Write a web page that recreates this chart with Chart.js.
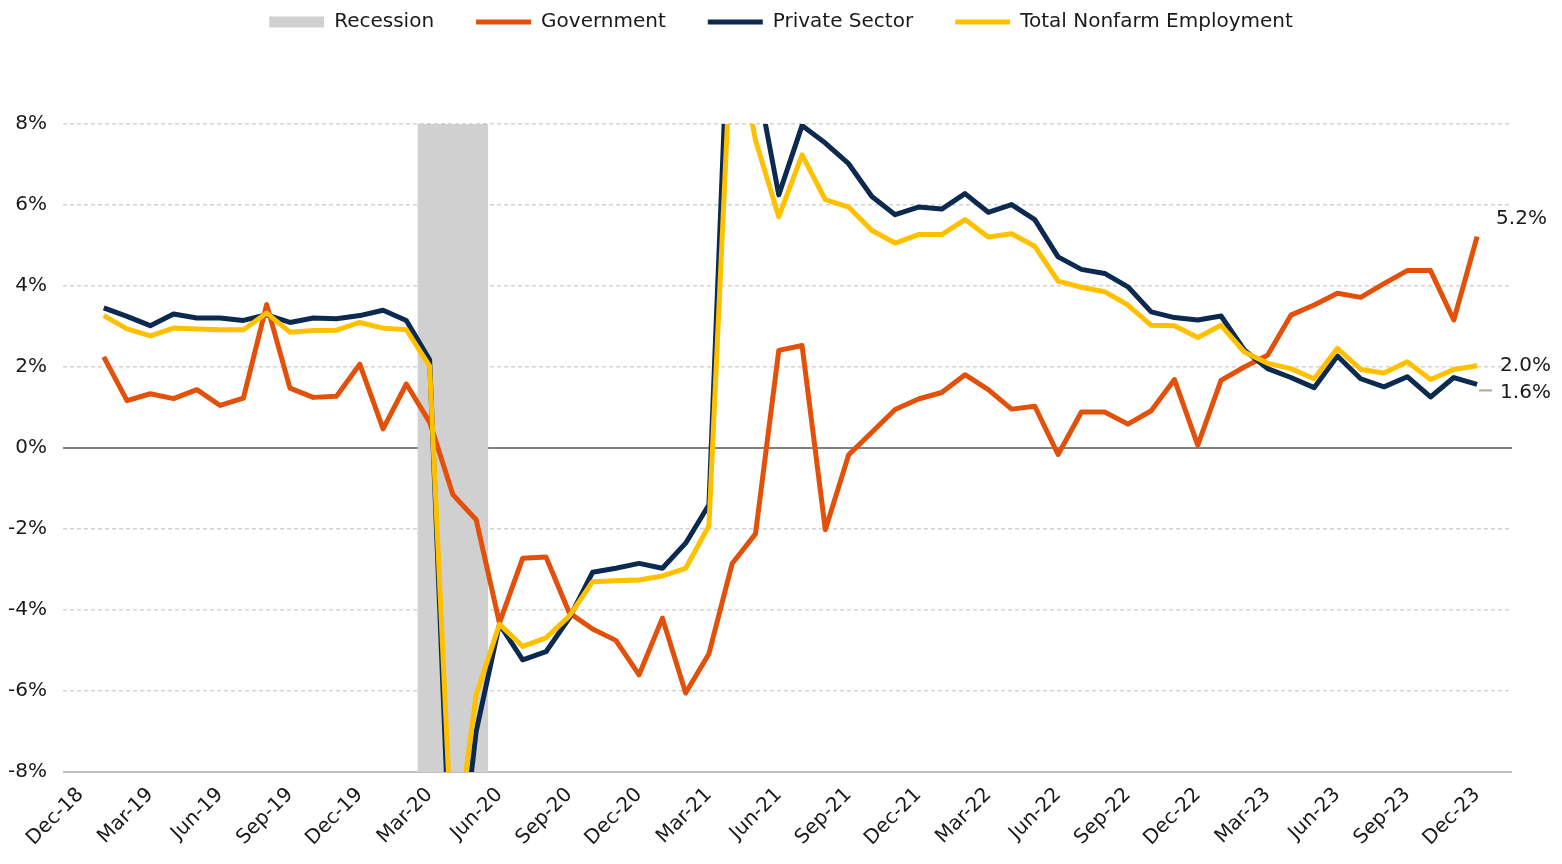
<!DOCTYPE html>
<html>
<head>
<meta charset="utf-8">
<title>Employment growth by sector</title>
<script src="https://cdn.jsdelivr.net/npm/chart.js@4.4.1/dist/chart.umd.min.js"></script>
<style>
  html, body { margin: 0; padding: 0; background: #fff; }
  #wrap { position: relative; width: 1562px; height: 864px; }
</style>
</head>
<body>
<div id="wrap"><canvas id="chart"></canvas></div>
<script>
// monthly observations, Jan-19 .. Dec-23 (x = months since Dec-18)
const months = [
  'Jan-19', 'Feb-19', 'Mar-19', 'Apr-19', 'May-19', 'Jun-19', 'Jul-19', 'Aug-19', 'Sep-19', 'Oct-19', 'Nov-19', 'Dec-19',
  'Jan-20', 'Feb-20', 'Mar-20', 'Apr-20', 'May-20', 'Jun-20', 'Jul-20', 'Aug-20', 'Sep-20', 'Oct-20', 'Nov-20', 'Dec-20',
  'Jan-21', 'Feb-21', 'Mar-21', 'Apr-21', 'May-21', 'Jun-21', 'Jul-21', 'Aug-21', 'Sep-21', 'Oct-21', 'Nov-21', 'Dec-21',
  'Jan-22', 'Feb-22', 'Mar-22', 'Apr-22', 'May-22', 'Jun-22', 'Jul-22', 'Aug-22', 'Sep-22', 'Oct-22', 'Nov-22', 'Dec-22',
  'Jan-23', 'Feb-23', 'Mar-23', 'Apr-23', 'May-23', 'Jun-23', 'Jul-23', 'Aug-23', 'Sep-23', 'Oct-23', 'Nov-23', 'Dec-23'
];

const tickLabels = [
  'Dec-18', 'Mar-19', 'Jun-19', 'Sep-19', 'Dec-19', 'Mar-20', 'Jun-20', 'Sep-20', 'Dec-20', 'Mar-21', 'Jun-21',
  'Sep-21', 'Dec-21', 'Mar-22', 'Jun-22', 'Sep-22', 'Dec-22', 'Mar-23', 'Jun-23', 'Sep-23', 'Dec-23'
];

const recessionMonths = ['Mar-20', 'Apr-20', 'May-20'];

const government = [
  2.25, 1.17, 1.34, 1.22, 1.44, 1.05, 1.23, 3.54, 1.48, 1.25, 1.28, 2.07,
  0.47, 1.58, 0.64, -1.15, -1.77, -4.32, -2.72, -2.69, -4.07, -4.47, -4.75, -5.60,
  -4.20, -6.05, -5.08, -2.85, -2.12, 2.41, 2.53, -2.02, -0.17, 0.39, 0.95, 1.21,
  1.37, 1.81, 1.44, 0.96, 1.03, -0.16, 0.89, 0.89, 0.59, 0.92, 1.69, 0.07,
  1.67, 2.00, 2.29, 3.28, 3.53, 3.82, 3.72, 4.06, 4.38, 4.38, 3.16, 5.22
];

const privateSector = [
  3.46, 3.25, 3.02, 3.31, 3.21, 3.21, 3.15, 3.29, 3.10, 3.21, 3.19, 3.27,
  3.40, 3.15, 2.18, -12.0, -7.00, -4.35, -5.23, -5.03, -4.20, -3.07, -2.97, -2.85,
  -2.97, -2.35, -1.40, 13.0, 9.30, 6.25, 7.96, 7.53, 7.02, 6.21, 5.76, 5.95,
  5.90, 6.28, 5.82, 6.01, 5.64, 4.72, 4.41, 4.31, 3.98, 3.36, 3.22, 3.16,
  3.26, 2.42, 1.96, 1.74, 1.49, 2.27, 1.71, 1.51, 1.76, 1.26, 1.74, 1.57
];

const totalNonfarm = [
  3.27, 2.94, 2.77, 2.96, 2.94, 2.92, 2.92, 3.33, 2.86, 2.90, 2.91, 3.10,
  2.96, 2.92, 2.02, -10.4, -6.10, -4.35, -4.90, -4.69, -4.15, -3.30, -3.28, -3.26,
  -3.16, -2.97, -1.92, 10.6, 7.60, 5.71, 7.24, 6.13, 5.95, 5.37, 5.06, 5.27,
  5.27, 5.64, 5.21, 5.29, 4.98, 4.12, 3.97, 3.86, 3.53, 3.03, 3.02, 2.73,
  3.03, 2.37, 2.09, 1.96, 1.71, 2.46, 1.94, 1.85, 2.13, 1.69, 1.94, 2.03
];

const yMin = -8;
const yMax = 8;

// Dec-18 is not in months, indexOf gives -1 -> position 0
const monthPos = (label) => months.indexOf(label) + 1;
const toPoints = (values) => values.map((v, i) => ({ x: i + 1, y: v }));

Chart.defaults.font.family = '"DejaVu Sans", sans-serif';
Chart.defaults.font.size = 20;
Chart.defaults.color = '#1a1a1a';

// push the plot area down below the legend
const legendGap = {
  id: 'legendGap',
  beforeInit(chart) {
    if (!chart.legend) return;
    const fit = chart.legend.fit;
    chart.legend.fit = function () {
      fit.call(this);
      this.height = 154;
    };
  }
};

// last-value labels on the right
const endLabels = {
  id: 'endLabels',
  afterDatasetsDraw(chart) {
    const { ctx } = chart;
    const spots = [
      { ds: 1, dx: 19, dy: -18 },
      { ds: 3, dx: 23, dy: 0 },
      { ds: 2, dx: 23, dy: 8, leader: true }
    ];
    ctx.save();
    ctx.font = '20px "DejaVu Sans"';
    ctx.fillStyle = '#1a1a1a';
    ctx.textAlign = 'left';
    ctx.textBaseline = 'middle';
    spots.forEach((s) => {
      const pts = chart.getDatasetMeta(s.ds).data;
      const last = pts[pts.length - 1];
      const value = chart.data.datasets[s.ds].data[pts.length - 1].y;
      ctx.fillText(value.toFixed(1) + '%', last.x + s.dx, last.y + s.dy);
      if (s.leader) {
        ctx.strokeStyle = '#a6a6a6';
        ctx.lineWidth = 2;
        ctx.beginPath();
        ctx.moveTo(last.x + 2, last.y + 6);
        ctx.lineTo(last.x + 15, last.y + 6);
        ctx.stroke();
      }
    });
    ctx.restore();
  }
};

const lineStyle = {
  type: 'line',
  borderWidth: 5,
  pointRadius: 0,
  tension: 0,
  borderJoinStyle: 'round',
  clip: 0
};

new Chart(document.getElementById('chart'), {
  type: 'line',
  data: {
    datasets: [
      {
        type: 'bar',
        label: 'Recession',
        data: recessionMonths.map((m) => ({ x: monthPos(m), y: [yMin, yMax] })),
        backgroundColor: '#d0d0d0',
        borderWidth: 0,
        barPercentage: 1,
        categoryPercentage: 1,
        order: 4
      },
      {
        ...lineStyle,
        label: 'Government',
        data: toPoints(government),
        borderColor: '#e2500a',
        order: 3
      },
      {
        ...lineStyle,
        label: 'Private Sector',
        data: toPoints(privateSector),
        borderColor: '#0c2a4f',
        order: 2
      },
      {
        ...lineStyle,
        label: 'Total Nonfarm Employment',
        data: toPoints(totalNonfarm),
        borderColor: '#ffc000',
        order: 1
      }
    ]
  },
  options: {
    responsive: true,
    maintainAspectRatio: false,
    animation: false,
    events: [],
    layout: { padding: { top: -30, left: 0, right: 0, bottom: 0 } },
    plugins: {
      tooltip: { enabled: false },
      legend: {
        position: 'top',
        labels: {
          usePointStyle: true,
          pointStyleWidth: 55,
          boxHeight: 11,
          padding: 42,
          color: '#1a1a1a',
          font: { size: 20 },
          sort: (a, b) => a.datasetIndex - b.datasetIndex,
          generateLabels(chart) {
            return Chart.defaults.plugins.legend.labels.generateLabels(chart).map((item) => {
              const ds = chart.data.datasets[item.datasetIndex];
              if (ds.type === 'bar') {
                item.pointStyle = 'rect';
                item.fillStyle = ds.backgroundColor;
                item.lineWidth = 0;
              } else {
                item.pointStyle = 'line';
                item.strokeStyle = ds.borderColor;
                item.lineWidth = 5;
              }
              return item;
            });
          }
        }
      }
    },
    scales: {
      x: {
        type: 'linear',
        min: -0.75,
        max: 61.5,
        offset: false,
        afterBuildTicks: (scale) => {
          scale.ticks = tickLabels.map((l) => ({ value: monthPos(l) }));
        },
        afterFit: (scale) => { scale.height = 92; },
        ticks: {
          autoSkip: false,
          maxRotation: 45,
          minRotation: 45,
          padding: 11,
          color: '#1a1a1a',
          callback: (value, index) => tickLabels[index]
        },
        grid: { display: false, drawTicks: false, offset: false },
        border: { display: false }
      },
      y: {
        min: yMin,
        max: yMax,
        afterFit: (scale) => { scale.width = 63; },
        ticks: {
          stepSize: 2,
          padding: 16,
          color: '#1a1a1a',
          callback: (v) => v + '%'
        },
        grid: {
          drawTicks: false,
          color: (c) => (c.tick.value === 0 ? '#808080' : c.tick.value === yMin ? '#c0c0c0' : '#d4d4d4'),
          lineWidth: (c) => (c.tick.value === 0 || c.tick.value === yMin ? 2 : 1.5)
        },
        border: {
          display: false,
          dash: (c) => (c.tick && (c.tick.value === 0 || c.tick.value === yMin) ? [] : [4, 3])
        }
      },
      y2: {
        position: 'right',
        display: true,
        afterFit: (scale) => { scale.width = 50; },
        ticks: { display: false },
        grid: { display: false, drawTicks: false },
        border: { display: false }
      }
    }
  },
  plugins: [legendGap, endLabels]
});
</script>
</body>
</html>
